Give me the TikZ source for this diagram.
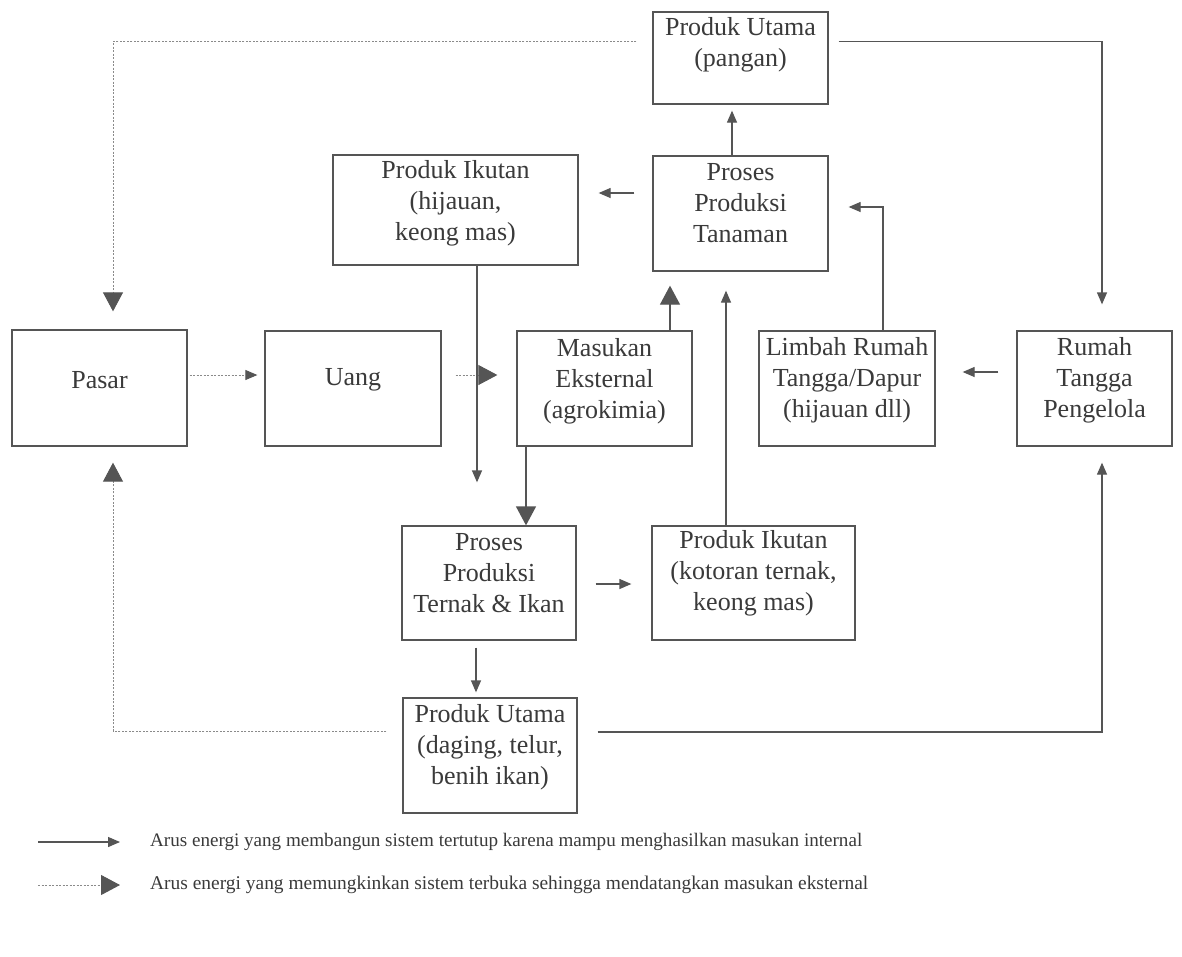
\documentclass[tikz,border=0pt]{standalone}
\usepackage{fontspec}
\setmainfont{Liberation Serif}
\usetikzlibrary{arrows.meta,calc}
\definecolor{ink}{HTML}{3A3A3A}
\definecolor{linec}{HTML}{555555}
\definecolor{dotc}{HTML}{8A8A8A}
\tikzset{
  box/.style={draw=linec, line width=1.3pt, inner sep=0pt},
  txt/.style={text=ink, align=center, inner sep=0pt, font=\fontsize{26}{31}\selectfont},
  legtxt/.style={text=ink, anchor=west, inner sep=0pt, font=\fontsize{19}{22}\selectfont},
  solidline/.style={draw=linec, line width=1.3pt},
  dotline/.style={draw=dotc, line width=0.9pt, dash pattern=on 2pt off 1.5pt},
  smallhead/.style={-{Triangle[length=12pt,width=10pt,color=linec,fill=linec]}},
  bighead/.style={-{Triangle[length=19pt,width=20pt,color=linec,fill=linec]}},
}
\begin{document}
\begin{tikzpicture}[x=1pt,y=-1pt]
\useasboundingbox[fill=white] (0,0) rectangle (1182,956);
% boxes
\node[box, minimum width=175pt, minimum height=92pt]  (pu1)    at (740.5,58) {};
\node[box, minimum width=175pt, minimum height=115pt] (tan)    at (740.5,213.5) {};
\node[box, minimum width=245pt, minimum height=110pt] (ik1)    at (455.5,210) {};
\node[box, minimum width=175pt, minimum height=116pt] (pasar)  at (99.5,388) {};
\node[box, minimum width=176pt, minimum height=115pt] (uang)   at (353,388.5) {};
\node[box, minimum width=175pt, minimum height=115pt] (mas)    at (604.5,388.5) {};
\node[box, minimum width=176pt, minimum height=115pt] (limbah) at (847,388.5) {};
\node[box, minimum width=155pt, minimum height=115pt] (rumah)  at (1094.5,388.5) {};
\node[box, minimum width=174pt, minimum height=114pt] (ternak) at (489,583) {};
\node[box, minimum width=203pt, minimum height=114pt] (kot)    at (753.5,583) {};
\node[box, minimum width=174pt, minimum height=115pt] (pu2)    at (490,755.5) {};
% texts
\node[txt] (pu1-t)    at (740.5,44.5) {Produk Utama\\(pangan)};
\node[txt] (tan-t)    at (740.5,203) {Proses\\Produksi\\Tanaman};
\node[txt] (ik1-t)    at (455.5,203) {Produk Ikutan\\(hijauan,\\keong mas)};
\node[txt] (pasar-t)  at (99.5,380) {Pasar};
\node[txt] (uang-t)   at (353,380) {Uang};
\node[txt] (mas-t)    at (604.5,381) {Masukan\\Eksternal\\(agrokimia)};
\node[txt] (limbah-t) at (847,380) {Limbah Rumah\\Tangga/Dapur\\(hijauan dll)};
\node[txt] (rumah-t)  at (1094.5,380) {Rumah\\Tangga\\Pengelola};
\node[txt] (ternak-t) at (489,573) {Proses\\Produksi\\Ternak \& Ikan};
\node[txt] (kot-t)    at (753.5,573) {Produk Ikutan\\(kotoran ternak,\\keong mas)};
\node[txt] (pu2-t)    at (490,747) {Produk Utama\\(daging, telur,\\benih ikan)};
% connectors
\draw[dotline, bighead] ($(pu1.north west)+(-16,30)$) -| ($(pasar.north)+(13.5,-18)$);
\draw[solidline, smallhead] ($(pu1.north east)+(10,30)$) -| ($(rumah.north)+(7.5,-26)$);
\draw[solidline, smallhead] ($(tan.north)+(-8.5,0)$) -- ($(pu1.south)+(-8.5,6)$);
\draw[solidline, smallhead] ($(tan.west)+(-18,-20.5)$) -- ($(ik1.east)+(20,-17)$);
\draw[solidline, smallhead] ($(limbah.north)+(36,0)$) |- ($(tan.east)+(20,-6.5)$);
\draw[solidline, smallhead] ($(rumah.west)+(-18,-16.5)$) -- ($(limbah.east)+(27,-16.5)$);
\draw[solidline, bighead] ($(mas.north)+(65.5,0)$) -- ($(tan.south)+(-70.5,14)$);
\draw[solidline, smallhead] ($(kot.north)+(-27.5,0)$) -- ($(tan.south)+(-14.5,19)$);
\draw[dotline, smallhead] ($(pasar.east)+(2,-13)$) -- ($(uang.west)+(-7,-13.5)$);
\draw[dotline, bighead] ($(uang.east)+(14,-13.5)$) -- ($(mas.west)+(-19,-13.5)$);
\draw[solidline, smallhead] ($(ik1.south)+(21.5,0)$) -- ($(ternak.north)+(-12,-43)$);
\draw[solidline, bighead] ($(mas.south)+(-78.5,0)$) -- ($(ternak.north)+(37,0)$);
\draw[solidline, smallhead] ($(ternak.east)+(19,1)$) -- ($(kot.west)+(-20,1)$);
\draw[solidline, smallhead] ($(ternak.south)+(-13,7)$) -- ($(pu2.north)+(-14,-5)$);
\draw[dotline, bighead] ($(pu2.west)+(-16,-24.5)$) -| ($(pasar.south)+(13.5,16)$);
\draw[solidline, smallhead] ($(pu2.east)+(20,-23.5)$) -| ($(rumah.south)+(7.5,16)$);
% legend
\coordinate (l1a) at (38,842);
\coordinate (l1b) at (120,842);
\coordinate (l2a) at (38,885);
\coordinate (l2b) at (120,885);
\draw[solidline, smallhead] (l1a) -- (l1b);
\draw[dotline, bighead] (l2a) -- (l2b);
\node[legtxt] (leg1) at (150,842) {\resizebox{712pt}{!}{Arus energi yang membangun sistem tertutup karena mampu menghasilkan masukan internal}};
\node[legtxt] (leg2) at (150,885) {\resizebox{718pt}{!}{Arus energi yang memungkinkan sistem terbuka sehingga mendatangkan masukan eksternal}};
\end{tikzpicture}
\end{document}
